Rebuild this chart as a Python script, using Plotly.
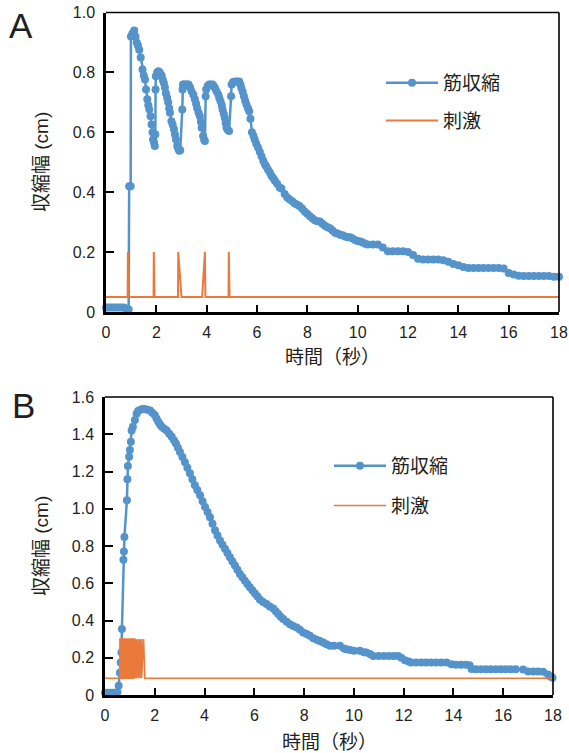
import plotly.graph_objects as go

# ---------------- Panel A data ----------------
a_time = [0.0, 0.1, 0.2, 0.3, 0.4, 0.5, 0.6, 0.7, 0.8, 0.9, 0.92, 0.98, 0.99, 1.05, 1.12, 1.17,
          1.22, 1.27, 1.32, 1.38, 1.45, 1.5, 1.55, 1.59, 1.64, 1.68, 1.72, 1.77, 1.81, 1.85, 1.87,
          1.91, 1.94, 1.96, 1.97, 1.98, 2.03, 2.08, 2.14, 2.21, 2.26, 2.3, 2.34, 2.38, 2.43, 2.47,
          2.51, 2.54, 2.6, 2.65, 2.7, 2.74, 2.78, 2.83, 2.87, 2.91, 2.95, 3.03, 3.04, 3.06, 3.1,
          3.16, 3.22, 3.28, 3.34, 3.4, 3.47, 3.53, 3.58, 3.62, 3.68, 3.73, 3.77, 3.8, 3.86, 3.9,
          3.93, 3.96, 3.98, 4.04, 4.1, 4.16, 4.23, 4.28, 4.33, 4.39, 4.46, 4.5, 4.55, 4.6, 4.63,
          4.68, 4.72, 4.76, 4.79, 4.84, 4.89, 4.97, 4.99, 5.05, 5.12, 5.2, 5.29, 5.34, 5.38, 5.43,
          5.48, 5.53, 5.58, 5.64, 5.69, 5.74, 5.8, 5.86, 5.91, 5.97, 6.04, 6.11, 6.18, 6.25, 6.31,
          6.37, 6.44, 6.51, 6.57, 6.64, 6.71, 6.8, 6.9, 6.97, 7.1, 7.2, 7.3, 7.4, 7.5, 7.6, 7.7,
          7.8, 7.9, 8.0, 8.1, 8.2, 8.3, 8.4, 8.5, 8.6, 8.7, 8.8, 8.9, 9.0, 9.1, 9.2, 9.3, 9.4, 9.5,
          9.6, 9.7, 9.8, 9.9, 10.0, 10.1, 10.2, 10.3, 10.4, 10.6, 10.8, 11.0, 11.2, 11.4, 11.6,
          11.8, 12.0, 12.2, 12.4, 12.6, 12.8, 13.0, 13.2, 13.4, 13.6, 13.8, 14.0, 14.2, 14.4, 14.6,
          14.8, 15.0, 15.2, 15.4, 15.6, 15.8, 16.0, 16.2, 16.4, 16.6, 16.8, 17.0, 17.2, 17.4, 17.6,
          17.8, 18.0]
a_contraction = [0.015, 0.015, 0.015, 0.015, 0.015, 0.015, 0.015, 0.015, 0.012, 0.008, 0.42, 0.42,
                 0.92, 0.93, 0.94, 0.92, 0.90, 0.89, 0.876, 0.85, 0.81, 0.79, 0.776, 0.743, 0.71,
                 0.69, 0.676, 0.654, 0.626, 0.60, 0.576, 0.565, 0.554, 0.593, 0.743, 0.787, 0.80,
                 0.804, 0.80, 0.79, 0.775, 0.765, 0.75, 0.73, 0.715, 0.70, 0.68, 0.665, 0.637,
                 0.625, 0.61, 0.593, 0.576, 0.554, 0.545, 0.538, 0.54, 0.676, 0.743, 0.76, 0.76,
                 0.76, 0.76, 0.76, 0.75, 0.737, 0.725, 0.71, 0.695, 0.68, 0.665, 0.654, 0.635,
                 0.615, 0.588, 0.575, 0.571, 0.72, 0.743, 0.755, 0.76, 0.76, 0.76, 0.755, 0.748,
                 0.737, 0.726, 0.715, 0.704, 0.69, 0.676, 0.662, 0.648, 0.63, 0.615, 0.608, 0.604,
                 0.72, 0.76, 0.768, 0.77, 0.77, 0.77, 0.76, 0.748, 0.735, 0.72, 0.705, 0.693, 0.68,
                 0.67, 0.645, 0.60, 0.588, 0.576, 0.562, 0.549, 0.535, 0.52, 0.505, 0.493, 0.486,
                 0.475, 0.466, 0.455, 0.447, 0.438, 0.428, 0.416, 0.412, 0.394, 0.382, 0.376, 0.37,
                 0.362, 0.358, 0.353, 0.345, 0.335, 0.328, 0.32, 0.313, 0.306, 0.303, 0.302, 0.295,
                 0.288, 0.283, 0.28, 0.272, 0.265, 0.262, 0.258, 0.256, 0.252, 0.25, 0.25, 0.245,
                 0.24, 0.237, 0.235, 0.232, 0.228, 0.225, 0.225, 0.225, 0.215, 0.203, 0.203, 0.203,
                 0.203, 0.2, 0.19, 0.178, 0.175, 0.175, 0.175, 0.175, 0.173, 0.168, 0.16, 0.156,
                 0.15, 0.147, 0.147, 0.147, 0.147, 0.147, 0.147, 0.147, 0.145, 0.13, 0.125, 0.121,
                 0.12, 0.12, 0.12, 0.12, 0.12, 0.12, 0.118, 0.118]

a_stim_time = [0.0, 0.86, 0.87, 0.90, 1.89, 1.90, 1.93, 2.86, 2.87, 3.0, 3.82, 3.93, 3.95,
               4.87, 4.88, 4.91, 18.0]
a_stim = [0.05, 0.05, 0.2, 0.05, 0.05, 0.2, 0.05, 0.05, 0.2, 0.05, 0.05, 0.2, 0.05,
          0.05, 0.2, 0.05, 0.05]

# ---------------- Panel B data ----------------
b_time = [0.0, 0.1, 0.2, 0.3, 0.4, 0.5, 0.55, 0.6, 0.63, 0.66, 0.68, 0.74, 0.76, 0.78, 0.88, 0.9,
          0.92, 0.97, 1.0, 1.04, 1.07, 1.12, 1.2, 1.27, 1.33, 1.4, 1.5, 1.6, 1.7, 1.81, 1.9, 2.0,
          2.07, 2.14, 2.21, 2.28, 2.38, 2.48, 2.58, 2.68, 2.77, 2.85, 2.93, 3.01, 3.11, 3.21, 3.31,
          3.41, 3.51, 3.61, 3.71, 3.82, 3.92, 4.02, 4.12, 4.22, 4.32, 4.42, 4.52, 4.62, 4.72, 4.82,
          4.92, 5.02, 5.12, 5.22, 5.32, 5.42, 5.52, 5.62, 5.72, 5.82, 5.92, 6.02, 6.12, 6.22, 6.35,
          6.49, 6.62, 6.76, 6.86, 6.96, 7.06, 7.16, 7.3, 7.43, 7.56, 7.7, 7.83, 7.96, 8.1, 8.23,
          8.37, 8.5, 8.63, 8.77, 8.9, 9.04, 9.2, 9.44, 9.6, 9.7, 9.85, 10.0, 10.24, 10.4, 10.5,
          10.65, 10.78, 11.0, 11.2, 11.4, 11.6, 11.78, 11.9, 12.05, 12.2, 12.3, 12.5, 12.7, 12.9,
          13.1, 13.3, 13.5, 13.72, 13.92, 14.1, 14.3, 14.5, 14.65, 14.73, 14.9, 15.1, 15.3, 15.5,
          15.7, 15.9, 16.1, 16.3, 16.5, 16.8, 17.0, 17.2, 17.4, 17.6, 17.8, 17.9, 17.98]
b_contraction = [0.012, 0.012, 0.012, 0.012, 0.012, 0.015, 0.05, 0.12, 0.174, 0.228, 0.354, 0.726,
                 0.77, 0.848, 1.045, 1.158, 1.23, 1.279, 1.315, 1.36, 1.42, 1.44, 1.476, 1.51,
                 1.525, 1.53, 1.535, 1.535, 1.532, 1.527, 1.515, 1.503, 1.485, 1.467, 1.452, 1.44,
                 1.43, 1.42, 1.403, 1.386, 1.368, 1.35, 1.328, 1.305, 1.278, 1.25, 1.22, 1.19,
                 1.158, 1.126, 1.1, 1.072, 1.04, 1.01, 0.983, 0.955, 0.92, 0.884, 0.857, 0.83,
                 0.807, 0.785, 0.762, 0.74, 0.717, 0.695, 0.672, 0.65, 0.632, 0.614, 0.596, 0.578,
                 0.562, 0.546, 0.53, 0.513, 0.5, 0.488, 0.475, 0.465, 0.45, 0.435, 0.42, 0.408,
                 0.393, 0.38, 0.37, 0.363, 0.35, 0.336, 0.327, 0.318, 0.305, 0.296, 0.29, 0.282,
                 0.273, 0.264, 0.264, 0.264, 0.25, 0.246, 0.242, 0.237, 0.237, 0.23, 0.228, 0.22,
                 0.21, 0.21, 0.21, 0.21, 0.21, 0.21, 0.2, 0.187, 0.18, 0.175, 0.175, 0.175, 0.175,
                 0.175, 0.175, 0.175, 0.174, 0.165, 0.163, 0.162, 0.162, 0.16, 0.14, 0.138, 0.138,
                 0.138, 0.138, 0.138, 0.138, 0.138, 0.138, 0.138, 0.137, 0.126, 0.126, 0.126,
                 0.125, 0.11, 0.1, 0.093]

b_stim_time = [0.0, 0.6, 0.6, 0.64, 0.64, 0.68, 0.68, 0.72, 0.72, 0.76, 0.76, 0.8, 0.8, 0.84,
               0.84, 0.88, 0.88, 0.92, 0.92, 0.96, 0.96, 1.0, 1.0, 1.04, 1.04, 1.08, 1.08, 1.12,
               1.12, 1.16, 1.16, 1.2, 1.2, 1.26, 1.26, 1.33, 1.33, 1.4, 1.4, 1.47, 1.47, 1.55,
               1.6, 18.0]
b_stim = [0.09, 0.09, 0.3, 0.3, 0.09, 0.09, 0.3, 0.3, 0.09, 0.09, 0.3, 0.3, 0.09, 0.09,
          0.3, 0.3, 0.09, 0.09, 0.3, 0.3, 0.09, 0.09, 0.3, 0.3, 0.09, 0.09, 0.3, 0.3,
          0.09, 0.09, 0.3, 0.3, 0.09, 0.3, 0.09, 0.3, 0.09, 0.3, 0.09, 0.3, 0.09, 0.3,
          0.09, 0.09]

x_ticks = [0, 2, 4, 6, 8, 10, 12, 14, 16, 18]
a_y_ticks = [0, 0.2, 0.4, 0.6, 0.8, 1.0]
a_y_ticktext = ["0", "0.2", "0.4", "0.6", "0.8", "1.0"]
b_y_ticks = [0, 0.2, 0.4, 0.6, 0.8, 1.0, 1.2, 1.4, 1.6]
b_y_ticktext = ["0", "0.2", "0.4", "0.6", "0.8", "1.0", "1.2", "1.4", "1.6"]

series_names = ["筋収縮", "刺激"]
x_title = "時間（秒）"
y_title = "収縮幅 (cm)"

assert len(a_time) == len(a_contraction)
assert len(b_time) == len(b_contraction)
assert len(a_stim_time) == len(a_stim)
assert len(b_stim_time) == len(b_stim)

BLUE = "#5593CB"
ORANGE = "#EA7A3C"
TXT = "#231f20"
LATIN = "Liberation Sans, Arial, sans-serif"
CJK = "Liberation Sans, Noto Sans CJK JP, sans-serif"

W, H = 569, 753


def px_x(p):
    return p / W


def px_y(p):
    return 1 - p / H


fig = go.Figure()

fig.add_trace(go.Scatter(x=a_time, y=a_contraction, mode="lines+markers", name=series_names[0],
                         line=dict(color=BLUE, width=2.5), marker=dict(color=BLUE, size=8),
                         xaxis="x", yaxis="y", legend="legend", legendgroup="a1",
                         cliponaxis=False))
fig.add_trace(go.Scatter(x=a_stim_time, y=a_stim, mode="lines", name=series_names[1],
                         line=dict(color=ORANGE, width=2), xaxis="x", yaxis="y",
                         legend="legend", legendgroup="a2", cliponaxis=False))
fig.add_trace(go.Scatter(x=b_time, y=b_contraction, mode="lines+markers", name=series_names[0],
                         line=dict(color=BLUE, width=2.5), marker=dict(color=BLUE, size=8),
                         xaxis="x2", yaxis="y2", legend="legend2", legendgroup="b1",
                         cliponaxis=False))
fig.add_trace(go.Scatter(x=b_stim_time, y=b_stim, mode="lines", name=series_names[1],
                         line=dict(color=ORANGE, width=1.6), xaxis="x2", yaxis="y2",
                         legend="legend2", legendgroup="b2", cliponaxis=False))

common_x = dict(range=[0, 18], tickvals=x_ticks, ticks="inside", ticklen=7, tickwidth=2,
                tickcolor="black", showline=True, linecolor="black", linewidth=2.5,
                showgrid=False, zeroline=False, ticklabelstandoff=4, automargin=False,
                tickfont=dict(family=LATIN, size=16, color=TXT))
common_y = dict(ticks="inside", ticklen=8, tickwidth=2, tickcolor="black", showline=True,
                linecolor="black", linewidth=2.5, showgrid=False, zeroline=False,
                ticklabelstandoff=5, automargin=False,
                tickfont=dict(family=LATIN, size=16, color=TXT))

a_dom_x = [px_x(106), px_x(559)]
a_dom_y = [px_y(312), px_y(12.5)]
b_dom_x = [px_x(105), px_x(553)]
b_dom_y = [px_y(695), px_y(397)]

fig.update_layout(
    width=W, height=H, margin=dict(l=0, r=0, t=0, b=0, autoexpand=False),
    paper_bgcolor="white", plot_bgcolor="white",
    xaxis=dict(domain=a_dom_x, anchor="y", **common_x),
    yaxis=dict(domain=a_dom_y, anchor="x", range=[0, 1.0], tickvals=a_y_ticks,
               ticktext=a_y_ticktext, **common_y),
    xaxis2=dict(domain=b_dom_x, anchor="y2", **common_x),
    yaxis2=dict(domain=b_dom_y, anchor="x2", range=[0, 1.6], tickvals=b_y_ticks,
                ticktext=b_y_ticktext, **common_y),
    legend=dict(x=px_x(381), y=px_y(64), xanchor="left", yanchor="top",
                font=dict(family=CJK, size=19, color=TXT), bgcolor="rgba(0,0,0,0)",
                tracegroupgap=10, itemwidth=52),
    legend2=dict(x=px_x(329), y=px_y(447), xanchor="left", yanchor="top",
                 font=dict(family=CJK, size=19, color=TXT), bgcolor="rgba(0,0,0,0)",
                 tracegroupgap=12, itemwidth=52),
    showlegend=True,
)

# thinner top/right frame lines
for xd, yd in [(a_dom_x, a_dom_y), (b_dom_x, b_dom_y)]:
    fig.add_shape(type="line", xref="paper", yref="paper", x0=xd[0], x1=xd[1], y0=yd[1],
                  y1=yd[1], line=dict(color="black", width=1.6))
    fig.add_shape(type="line", xref="paper", yref="paper", x0=xd[1], x1=xd[1], y0=yd[0],
                  y1=yd[1], line=dict(color="black", width=1.6))

annos = [
    dict(text="A", x=px_x(21), y=px_y(26), font=dict(family=LATIN, size=35, color=TXT)),
    dict(text="B", x=px_x(23), y=px_y(405), font=dict(family=LATIN, size=35, color=TXT)),
    dict(text=x_title, x=px_x(332), y=px_y(357), font=dict(family=CJK, size=19, color=TXT)),
    dict(text=x_title, x=px_x(329), y=px_y(742), font=dict(family=CJK, size=19, color=TXT)),
    dict(text=y_title, x=px_x(41), y=px_y(162), textangle=-90,
         font=dict(family=CJK, size=19, color=TXT)),
    dict(text=y_title, x=px_x(41), y=px_y(546), textangle=-90,
         font=dict(family=CJK, size=19, color=TXT)),
]
for a in annos:
    fig.add_annotation(xref="paper", yref="paper", showarrow=False, xanchor="center",
                       yanchor="middle", **a)

fig.write_html("out.html", config={"displayModeBar": False},
               post_script="document.body.style.margin='0';document.body.style.overflow='hidden';")
